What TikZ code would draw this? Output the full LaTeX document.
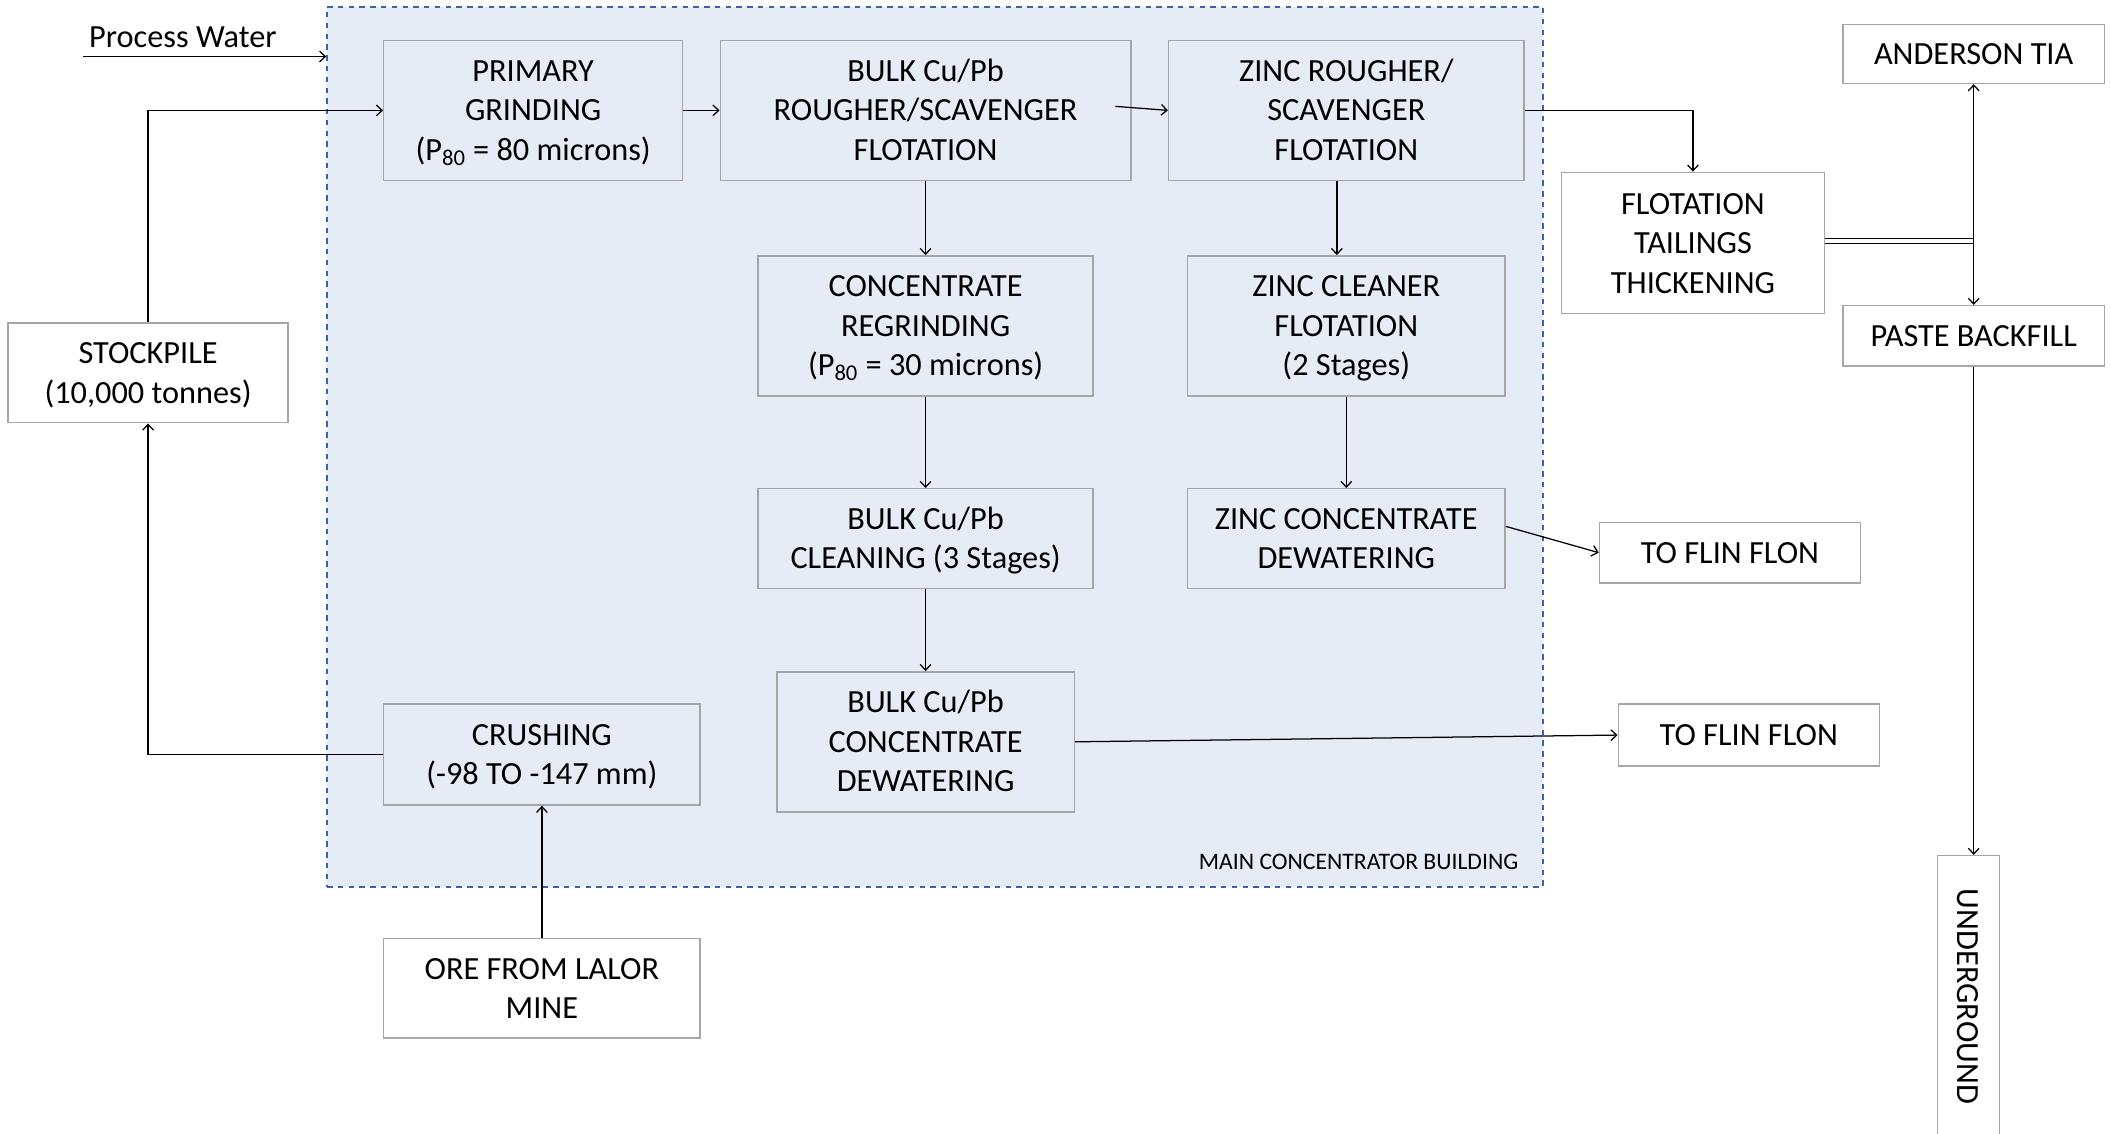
\documentclass[tikz,border=0pt]{standalone}
\usepackage{fontspec}
\setmainfont{Carlito}
\usetikzlibrary{arrows.meta,calc}
\definecolor{bldfill}{HTML}{E6ECF5}
\definecolor{bldline}{HTML}{3A64A0}
\definecolor{boxline}{HTML}{A6A6A6}
\tikzset{
  box/.style={draw=boxline, line width=0.8pt, align=center, inner sep=0pt,
    font=\fontsize{18}{22}\selectfont},
  inbox/.style={box, fill=bldfill},
  outbox/.style={box, fill=white},
  flow/.style={draw=black, line width=0.7pt, -{Straight Barb[length=3.2pt,width=6pt]}},
  plain/.style={draw=black, line width=0.7pt}
}
\newcommand{\bx}[7]{% name, style, x1, x2, y1, y2, text
  \node[#2, minimum width={(#4-#3)*0.75pt}, minimum height={(#6-#5)*0.75pt}]
    (#1) at ({(#3+#4)/2},{(#5+#6)/2}) {\raisebox{-1.5pt}[\height][\depth]{\begin{tabular}{@{}c@{}}#7\end{tabular}}};}
\begin{document}
\begin{tikzpicture}[x=0.75pt,y=-0.75pt]
\useasboundingbox (0,0) rectangle (1568,842.3);
% main building
\node[draw=bldline, fill=bldfill, dashed, line width=1pt, inner sep=0pt,
  minimum width={903*0.75pt}, minimum height={654*0.75pt}] (bld) at (694.5,332) {};
\node[anchor=base east, font=\fontsize{13.2}{16}\selectfont, inner sep=0pt] (bldlbl) at (1128,646) {MAIN CONCENTRATOR BUILDING};
% boxes inside
\bx{pg}{inbox}{285}{507}{30}{134}{PRIMARY\\GRINDING\\(P\textsubscript{80} = 80 microns)}
\bx{bulk}{inbox}{535}{840}{30}{134}{BULK Cu/Pb\\ROUGHER/SCAVENGER\\FLOTATION}
\bx{zr}{inbox}{868}{1132}{30}{134}{ZINC ROUGHER/\\SCAVENGER\\FLOTATION}
\bx{regr}{inbox}{563}{812}{190}{294}{CONCENTRATE\\REGRINDING\\(P\textsubscript{80} = 30 microns)}
\bx{zc}{inbox}{882}{1118}{190}{294}{ZINC CLEANER\\FLOTATION\\(2 Stages)}
\bx{clean}{inbox}{563}{812}{363}{437}{BULK Cu/Pb\\CLEANING (3 Stages)}
\bx{zcd}{inbox}{882}{1118}{363}{437}{ZINC CONCENTRATE\\DEWATERING}
\bx{bcd}{inbox}{577}{798}{499}{603}{BULK Cu/Pb\\CONCENTRATE\\DEWATERING}
\bx{crush}{inbox}{285}{520}{523}{598}{CRUSHING\\(-98 TO -147 mm)}
% boxes outside
\bx{ore}{outbox}{285}{520}{697}{771}{ORE FROM LALOR\\MINE}
\bx{stock}{outbox}{6}{214}{240}{314}{STOCKPILE\\(10,000 tonnes)}
\bx{ftt}{outbox}{1160}{1355}{128}{233}{FLOTATION\\TAILINGS\\THICKENING}
\bx{tia}{outbox}{1369}{1563}{18}{62}{ANDERSON TIA}
\bx{paste}{outbox}{1369}{1563}{227}{272}{PASTE BACKFILL}
\bx{tff1}{outbox}{1188}{1382}{388}{433}{TO FLIN FLON}
\bx{tff2}{outbox}{1202}{1396}{523}{569}{TO FLIN FLON}
\node[outbox, minimum width={46*0.75pt}, minimum height={220*0.75pt}, anchor=north] (ug) at (1462,635) {};
\node[font=\fontsize{18}{22}\selectfont, rotate=-90, anchor=west, inner sep=0pt] (ugtxt) at (1462,660) {UNDERGROUND};
% process water
\node[anchor=base west, font=\fontsize{18}{22}\selectfont, inner sep=0pt] (pw) at (66,35) {Process Water};
\coordinate (pwstart) at (62,42);
\draw[flow] (pwstart) -- (bld.west |- pwstart);
% connectors
\draw[flow] (stock.north) |- (pg.west);
\draw[flow] (crush.west) -| (stock.south);
\draw[flow] (ore.north -| crush.south) -- (crush.south);
\draw[flow] (pg.east) -- (bulk.west);
\draw[flow] ($(bulk.east)+(-12,-3)$) -- (zr.west);
\draw[flow] (bulk.south) -- (regr.north);
\draw[flow] (regr.south) -- (clean.north);
\draw[flow] (clean.south) -- (bcd.north);
\draw[flow] (zr.south -| 993,0) -- (zc.north -| 993,0);
\draw[flow] (zc.south) -- (zcd.north);
\draw[flow] ($(zcd.east)+(0,-9)$) -- (tff1.west);
\draw[flow] (bcd.east) -- (tff2.west);
\draw[flow] (zr.east) -| (ftt.north);
\coordinate (junc) at (1466,179);
\draw[plain, double, double distance=2.2pt] (ftt.east |- junc) -- (junc);
\draw[flow] (junc) -- (tia.south);
\draw[flow] (junc) -- (paste.north);
\draw[flow] (paste.south -| 1466,0) -- (ug.north -| 1466,0);
\end{tikzpicture}
\end{document}
